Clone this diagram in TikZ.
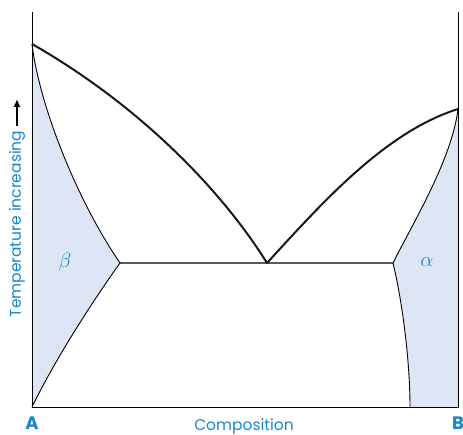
\documentclass[tikz,border=0pt]{standalone}
\usepackage{fontspec}
\setmainfont{Poppins}
\usetikzlibrary{arrows.meta}
\definecolor{txtblue}{RGB}{20,135,205}
\definecolor{phasefill}{RGB}{222,230,245}
\tikzset{
  axisline/.style={line width=1pt, black},
  liquidus/.style={line width=2pt, black!90, line join=round},
  solvus/.style={line width=0.9pt, black},
  eutline/.style={line width=1.2pt, black!65},
  lbl/.style={text=txtblue, inner sep=0pt, font=\fontsize{15.5}{18}\selectfont},
  greek/.style={text=txtblue, inner sep=0pt, font=\fontsize{20}{22}\selectfont},
  corner/.style={text=txtblue, inner sep=0pt, font=\bfseries\fontsize{18}{20}\selectfont},
}
\begin{document}
\begin{tikzpicture}[x=1pt,y=-1pt]
\useasboundingbox (0,0) rectangle (463,435);
% points
\coordinate (Atop) at (32,12);
\coordinate (A) at (32,407);
\coordinate (Btop) at (458,12);
\coordinate (B) at (458,407);
\coordinate (TA) at (32,44);
\coordinate (TB) at (458,109);
\coordinate (E) at (267,263);
\coordinate (Bl) at (120,263);
\coordinate (Ar) at (393,263);
\coordinate (Ab) at (410,407);
% fills
\fill[phasefill] (TA) .. controls (40,110) and (80,205) .. (Bl)
  .. controls (90,305) and (55,360) .. (A) -- cycle;
\fill[phasefill] (TB) .. controls (452,159) and (413,223) .. (Ar)
  .. controls (402,300) and (410,360) .. (Ab) -- (B) -- cycle;
% axes
\draw[axisline] (Atop) -- (A) -- (B) -- (Btop);
% eutectic
\draw[eutline] (Bl) -- (Ar);
% solvus lines
\draw[solvus] (TA) .. controls (40,110) and (80,205) .. (Bl)
  .. controls (90,305) and (55,360) .. (A);
\draw[solvus] (TB) .. controls (452,159) and (413,223) .. (Ar)
  .. controls (402,300) and (410,360) .. (Ab);
% liquidus
\draw[liquidus] (TA) .. controls (132,101) and (217,183) .. (E)
  .. controls (322,203) and (385,132) .. (TB);
% labels
\node[greek] (beta) at (65,262) {$\beta$};
\node[greek] (alpha) at (427,262) {$\alpha$};
\node[corner] (lA) at (32,423) {A};
\node[corner] (lB) at (458,423) {B};
\node[lbl] (comp) at (244,427) {Composition};
\node[lbl, rotate=90] (temp) at (17,224) {Temperature increasing};
\coordinate (arrS) at (17,126);
\coordinate (arrE) at (17,99);
\draw[line width=2pt, -{Latex[length=8pt,width=7pt]}] (arrS) -- (arrE);
\end{tikzpicture}
\end{document}
